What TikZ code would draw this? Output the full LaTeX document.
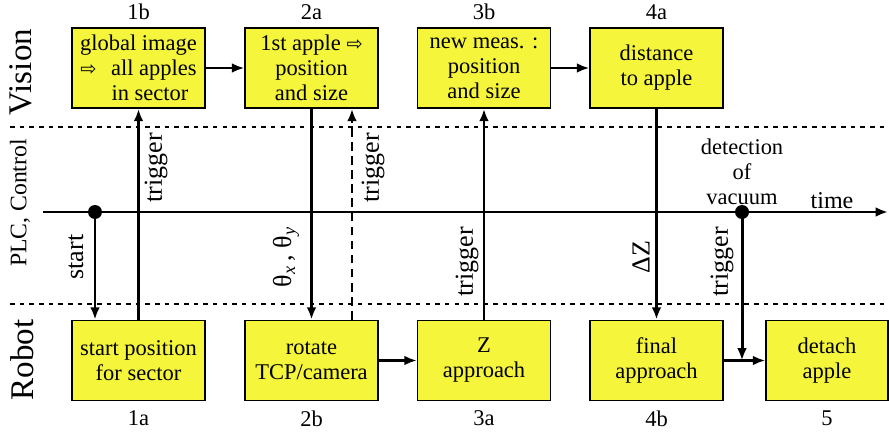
\documentclass[tikz,border=0pt]{standalone}
\usepackage{fontspec}
\setmainfont{Liberation Serif}
\newfontfamily\symfont{DejaVu Sans}
\usetikzlibrary{arrows.meta,positioning}
\definecolor{boxyellow}{RGB}{245,245,60}
\newcommand{\rarr}{{\symfont\fontsize{11}{12}\selectfont ⇨}}

\begin{document}
\begin{tikzpicture}[x=0.02cm,y=-0.02cm,
 box/.style={draw,line width=1pt,fill=boxyellow,minimum width=2.66cm,minimum height=1.6cm,
  align=center,inner sep=1pt,font=\fontsize{12.8}{14.2}\selectfont},
 num/.style={inner sep=1pt,font=\fontsize{12.8}{14.2}\selectfont},
 sig/.style={line width=1.7pt,-{Latex[length=7pt,width=5.5pt]}},
 flow/.style={line width=1.2pt,-{Latex[length=7pt,width=5.5pt]}},
 lane/.style={line width=1pt,dash pattern=on 2.6pt off 2.9pt},
 side/.style={rotate=90,inner sep=1pt,font=\fontsize{14.8}{17}\selectfont},
 row/.style={rotate=90,inner sep=1pt,font=\fontsize{18.8}{20}\selectfont},
 dot/.style={circle,fill,inner sep=0pt,minimum size=0.28cm}]
\useasboundingbox (0,0) rectangle (889,432);

% swim lanes
\draw[lane] (10,127) -- (889,127);
\draw[lane] (10,304) -- (889,304);
\node[row] (vis) at (21,72) {Vision};
\node[row,font=\fontsize{13.5}{15}\selectfont] (plc) at (20,203) {PLC, Control};
\node[row] (rob) at (22,360) {Robot};

% vision steps
\node[box] (v1) at (138.5,68) {global image\\ \rarr\hspace{0.65em}all apples\\ \hspace*{0.46cm}in sector};
\node[box] (v2) at (311.5,68) {1st apple \rarr\\ position\\ and size};
\node[box] (v3) at (484,68) {new meas. :\\ position\\ and size};
\node[box] (v4) at (656.5,68) {distance\\ to apple};
\node[num,above=3pt of v1] (n1b) {1b};
\node[num,above=3pt of v2] (n2a) {2a};
\node[num,above=3pt of v3] (n3b) {3b};
\node[num,above=3pt of v4] (n4a) {4a};

% robot steps
\node[box] (r1) at (138.5,360.5) {start position\\ for sector};
\node[box] (r2) at (311.5,360.5) {rotate\\ TCP/camera};
\node[box] (r3) at (484,360.5) {Z\\ approach};
\node[box] (r4) at (656.5,360.5) {final\\ approach};
\node[box,minimum width=2.44cm] (r5) at (827,360.5) {detach\\ apple};
\node[num,below=4pt of r1] (n1a) {1a};
\node[num,below=4pt of r2] (n2b) {2b};
\node[num,below=4pt of r3] (n3a) {3a};
\node[num,below=4pt of r4] (n4b) {4b};
\node[num,below=4pt of r5] (n5) {5};

% time line
\coordinate (t0) at (43,212);
\coordinate (t1) at (888,212);
\draw[sig] (t0) -- (t1);
\node[dot] (go) at (95,212) {};
\node[dot] (vac) at (742,212) {};
\node[num,font=\fontsize{13.7}{15}\selectfont] (tm) at (832,201) {time};
\node[num,align=center] (det) at (742,172) {detection\\ of\\ vacuum};

% signals
\draw[sig] (go.center) -- (go |- r1.north);
\draw[sig] (r1) -- (v1);
\draw[sig] (v2) -- (r2);
\draw[sig,dash pattern=on 5pt off 3pt] ([xshift=0.81cm]r2.north) -- ([xshift=0.81cm]v2.south);
\draw[sig] (r3) -- (v3);
\draw[sig] (v4) -- (r4);
\draw[sig] (vac.center) -- (vac |- r4.east);
\draw[flow] (v1) -- (v2);
\draw[flow] (v3) -- (v4);
\draw[flow] (r2) -- (r3);
\draw[flow] (r4) -- (r5);

% signal labels
\node[side] (ls) at (76,257) {start};
\node[side] (lt1) at (156,168) {trigger};
\node[side] (lth) at (286,257) {θ\textsubscript{\textit{x}}\,, θ\textsubscript{\textit{y}}};
\node[side] (lt2) at (373,168) {trigger};
\node[side] (lt3) at (467,262) {trigger};
\node[side] (ldz) at (641,257) {ΔZ};
\node[side] (lt4) at (722,262) {trigger};
\end{tikzpicture}
\end{document}
